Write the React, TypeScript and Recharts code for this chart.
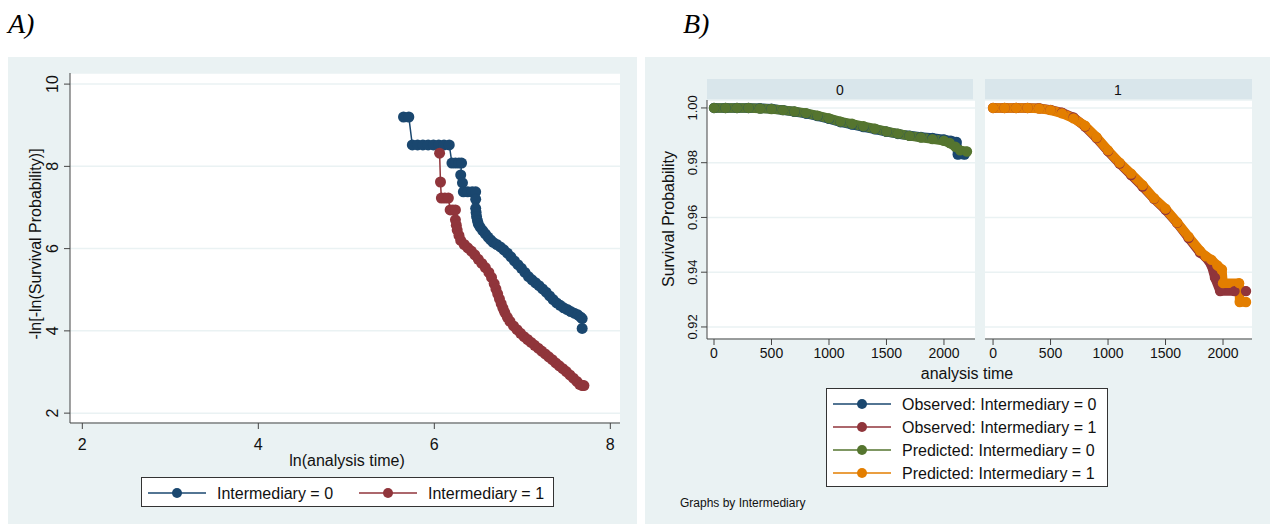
import React from 'react'
import { LineChart, Line, XAxis, YAxis, CartesianGrid } from 'recharts'

// Panel A: -ln[-ln(S)] against ln(analysis time)
const int0LnTime = [5.65, 5.71, 5.75, 5.81, 5.87, 5.93, 5.99, 6.05, 6.11, 6.17, 6.2, 6.24, 6.28, 6.31, 6.3, 6.32, 6.33, 6.38, 6.43, 6.47, 6.47, 6.47, 6.475, 6.48, 6.49, 6.5, 6.52, 6.55, 6.58, 6.61, 6.64, 6.67, 6.71, 6.75, 6.79, 6.83, 6.87, 6.91, 6.95, 6.99, 7.03, 7.07, 7.11, 7.15, 7.19, 7.23, 7.27, 7.31, 7.35, 7.39, 7.43, 7.47, 7.51, 7.55, 7.59, 7.63, 7.66, 7.68, 7.68]
const int0LnLnS = [9.2, 9.2, 8.52, 8.52, 8.52, 8.52, 8.52, 8.52, 8.52, 8.52, 8.08, 8.08, 8.08, 8.08, 7.79, 7.6, 7.38, 7.38, 7.38, 7.38, 7.2, 6.98, 6.88, 6.78, 6.68, 6.6, 6.52, 6.44, 6.36, 6.28, 6.21, 6.15, 6.1, 6.04, 5.97, 5.89, 5.8, 5.7, 5.61, 5.52, 5.42, 5.32, 5.24, 5.17, 5.1, 5.02, 4.94, 4.85, 4.76, 4.68, 4.62, 4.56, 4.52, 4.47, 4.43, 4.39, 4.34, 4.3, 4.06]
const int1LnTime = [6.06, 6.07, 6.08, 6.12, 6.16, 6.18, 6.21, 6.24, 6.24, 6.25, 6.26, 6.28, 6.3, 6.34, 6.38, 6.42, 6.46, 6.5, 6.54, 6.58, 6.62, 6.65, 6.68, 6.7, 6.72, 6.74, 6.76, 6.78, 6.8, 6.83, 6.86, 6.9, 6.94, 6.98, 7.02, 7.06, 7.1, 7.14, 7.18, 7.22, 7.26, 7.3, 7.34, 7.38, 7.42, 7.46, 7.5, 7.54, 7.58, 7.62, 7.65, 7.68, 7.7]
const int1LnLnS = [8.32, 7.62, 7.23, 7.23, 7.23, 6.94, 6.94, 6.94, 6.7, 6.57, 6.45, 6.32, 6.2, 6.1, 6.02, 5.94, 5.85, 5.74, 5.64, 5.54, 5.42, 5.3, 5.15, 5.02, 4.9, 4.78, 4.66, 4.55, 4.45, 4.33, 4.23, 4.12, 4.03, 3.94, 3.86, 3.79, 3.72, 3.65, 3.58, 3.51, 3.44, 3.37, 3.3, 3.22, 3.15, 3.08, 3.01, 2.93, 2.85, 2.77, 2.7, 2.67, 2.67]
const lnTimeTicks = [2, 4, 6, 8]
const lnLnTicks = [2, 4, 6, 8, 10]

// Panel B: observed vs predicted survival, by Intermediary
const obs0Time = [0, 100, 200, 300, 400, 500, 600, 700, 800, 900, 1000, 1100, 1200, 1300, 1400, 1500, 1600, 1700, 1800, 1900, 2000, 2060, 2110, 2120, 2180]
const obs0Surv = [1, 1, 1, 1, 0.9999, 0.9997, 0.9992, 0.9986, 0.9979, 0.997, 0.996, 0.9948, 0.9939, 0.993, 0.9922, 0.9913, 0.9905, 0.9899, 0.9894, 0.989, 0.9885, 0.988, 0.9876, 0.983, 0.983]
const pred0Time = [0, 100, 200, 300, 400, 500, 600, 700, 800, 900, 1000, 1100, 1200, 1300, 1400, 1500, 1600, 1700, 1800, 1900, 2000, 2050, 2100, 2140, 2200]
const pred0Surv = [1, 1, 1, 1, 0.9998, 0.9996, 0.9992, 0.9987, 0.9981, 0.9972, 0.9962, 0.995, 0.9942, 0.9933, 0.9924, 0.9914, 0.9906, 0.9898, 0.9892, 0.9886, 0.988, 0.9872, 0.9858, 0.9845, 0.9841]
const obs1Time = [0, 100, 200, 300, 400, 500, 600, 700, 800, 900, 1000, 1100, 1200, 1300, 1400, 1500, 1600, 1700, 1800, 1850, 1900, 1930, 1975, 2100, 2200]
const obs1Surv = [1, 1, 1, 1, 0.9999, 0.9993, 0.9983, 0.9965, 0.9932, 0.989, 0.9842, 0.9797, 0.9755, 0.9713, 0.9668, 0.9628, 0.958, 0.9525, 0.9472, 0.9455, 0.9425, 0.938, 0.9331, 0.9331, 0.9331]
const pred1Time = [0, 100, 200, 300, 400, 500, 600, 700, 800, 900, 1000, 1100, 1200, 1300, 1400, 1500, 1600, 1700, 1800, 1850, 1900, 1950, 1990, 2000, 2140, 2145, 2200]
const pred1Surv = [1, 1, 1, 1, 0.9998, 0.9992, 0.998, 0.9962, 0.9935, 0.9893, 0.9845, 0.98, 0.976, 0.9718, 0.967, 0.9632, 0.9582, 0.953, 0.9478, 0.9458, 0.9445, 0.9425, 0.941, 0.936, 0.936, 0.9291, 0.9291]
const timeTicks = [0, 500, 1000, 1500, 2000]
const survTicks = [0.92, 0.94, 0.96, 0.98, 1.0]

const NAVY = '#1a476f'
const MAROON = '#90353b'
const GREEN = '#55752f'
const ORANGE = '#e37e00'
const PANEL = '#eaf2f3'
const STRIP = '#d9e6eb'
const AXIS = '#444'
const TEXT = '#111'

const zip = (xs: number[], ys: number[]) => xs.map((x, i) => ({ x, y: ys[i] }))

const xTick = (baseline: number, size: number) => (p: any) => (
  <text x={p.x} y={baseline} textAnchor="middle" fontSize={size} fill={TEXT}>
    {p.payload.value}
  </text>
)

const yTick = (bx: number, size: number, fmt: (v: number) => string) => (p: any) => (
  <text transform={`translate(${bx},${p.y}) rotate(-90)`} textAnchor="middle" fontSize={size} fill={TEXT}>
    {fmt(p.payload.value)}
  </text>
)

function LegendRow({ x, y, color, label }: { x: number; y: number; color: string; label: string }) {
  return (
    <g>
      <line x1={x} x2={x + 58} y1={y} y2={y} stroke={color} strokeWidth={1.5} />
      <circle cx={x + 29} cy={y} r={5} fill={color} />
      <text x={x + 69} y={y + 6} fontSize={16} fill={TEXT}>{label}</text>
    </g>
  )
}

// one facet of panel B; chart box starts at y=79 so the top tick label is not clipped
function Facet({ left, xDomain, showY, obs, pred, obsColor, predColor }: any) {
  return (
    <div style={{ position: 'absolute', left, top: 79 }}>
      <LineChart width={showY ? 330 : 267} height={291} margin={{ top: 21, right: 0, bottom: 0, left: 0 }}>
        <CartesianGrid vertical={false} stroke={PANEL} strokeWidth={1.5} fill="#fff" />
        <XAxis type="number" dataKey="x" domain={xDomain} ticks={timeTicks} allowDataOverflow
          height={31} stroke={AXIS} tickSize={6} tick={xTick(279, 14)} />
        <YAxis type="number" dataKey="y" domain={[0.9156, 1.0029]} ticks={survTicks} allowDataOverflow
          width={showY ? 62 : 0} hide={!showY} stroke={AXIS} tickSize={6}
          tick={yTick(52, 13, (v) => v.toFixed(2))} />
        <Line data={obs} dataKey="y" stroke={obsColor} strokeWidth={9.5} strokeLinejoin="round" strokeLinecap="round"
          dot={{ r: 5.2, fill: obsColor, stroke: 'none' }} activeDot={false} isAnimationActive={false} />
        <Line data={pred} dataKey="y" stroke={predColor} strokeWidth={9.5} strokeLinejoin="round" strokeLinecap="round"
          dot={{ r: 5.2, fill: predColor, stroke: 'none' }} activeDot={false} isAnimationActive={false} />
      </LineChart>
    </div>
  )
}

export default function App() {
  const int0 = zip(int0LnTime, int0LnLnS)
  const int1 = zip(int1LnTime, int1LnLnS)
  return (
    <div style={{ position: 'absolute', left: 0, top: 0, width: 1270, height: 526, background: '#fff', overflow: 'hidden', fontFamily: '"Liberation Sans", Arial, sans-serif' }}>
      <svg width={1270} height={526} style={{ position: 'absolute', left: 0, top: 0 }}>
        <text x={8} y={33} fontFamily='"Liberation Serif", serif' fontStyle="italic" fontSize={28} fill="#000">A)</text>
        <text x={683} y={33} fontFamily='"Liberation Serif", serif' fontStyle="italic" fontSize={28} fill="#000">B)</text>

        <rect x={8} y={57} width={629} height={467} fill={PANEL} />
        <text transform="translate(41,244) rotate(-90)" textAnchor="middle" fontSize={16} fill={TEXT}>-ln[-ln(Survival Probability)]</text>
        <text x={347} y={466} textAnchor="middle" fontSize={16} fill={TEXT}>ln(analysis time)</text>
        <rect x={141.5} y={477.5} width={412} height={29} fill="#fff" stroke="#333" />
        <LegendRow x={148} y={493} color={NAVY} label="Intermediary = 0" />
        <LegendRow x={359} y={493} color={MAROON} label="Intermediary = 1" />

        <rect x={645} y={57} width={625} height={467} fill={PANEL} />
        <rect x={707} y={79} width={266} height={21} fill={STRIP} />
        <rect x={985} y={79} width={267} height={21} fill={STRIP} />
        <text x={840} y={95} textAnchor="middle" fontSize={14} fill={TEXT}>0</text>
        <text x={1118} y={95} textAnchor="middle" fontSize={14} fill={TEXT}>1</text>
        <text transform="translate(674,219) rotate(-90)" textAnchor="middle" fontSize={16} fill={TEXT}>Survival Probability</text>
        <text x={967} y={379} textAnchor="middle" fontSize={16} fill={TEXT}>analysis time</text>
        <rect x={826.5} y={388.5} width={281} height={98} fill="#fff" stroke="#333" />
        <LegendRow x={833} y={404} color={NAVY} label="Observed: Intermediary = 0" />
        <LegendRow x={833} y={427} color={MAROON} label="Observed: Intermediary = 1" />
        <LegendRow x={833} y={450} color={GREEN} label="Predicted: Intermediary = 0" />
        <LegendRow x={833} y={473} color={ORANGE} label="Predicted: Intermediary = 1" />
        <text x={680} y={507} fontSize={12} fill={TEXT}>Graphs by Intermediary</text>
      </svg>

      <div style={{ position: 'absolute', left: 8, top: 73 }}>
        <LineChart width={612} height={380} margin={{ top: 0, right: 0, bottom: 0, left: 0 }}>
          <CartesianGrid vertical={false} stroke={PANEL} strokeWidth={1.5} fill="#fff" />
          <XAxis type="number" dataKey="x" domain={[1.86, 8.11]} ticks={lnTimeTicks} allowDataOverflow
            height={30} stroke={AXIS} tickSize={6} tick={xTick(377, 16)} />
          <YAxis type="number" dataKey="y" domain={[1.76, 10.27]} ticks={lnLnTicks} allowDataOverflow
            width={62} stroke={AXIS} tickSize={6} tick={yTick(49.5, 16, (v) => String(v))} />
          <Line data={int0} dataKey="y" stroke={NAVY} strokeWidth={1.5}
            dot={{ r: 5.5, fill: NAVY, stroke: 'none' }} activeDot={false} isAnimationActive={false} />
          <Line data={int1} dataKey="y" stroke={MAROON} strokeWidth={1.5}
            dot={{ r: 5.5, fill: MAROON, stroke: 'none' }} activeDot={false} isAnimationActive={false} />
        </LineChart>
      </div>

      <Facet left={645} xDomain={[-61, 2270]} showY obs={zip(obs0Time, obs0Surv)} pred={zip(pred0Time, pred0Surv)} obsColor={NAVY} predColor={GREEN} />
      <Facet left={985} xDomain={[-70, 2252]} showY={false} obs={zip(obs1Time, obs1Surv)} pred={zip(pred1Time, pred1Surv)} obsColor={MAROON} predColor={ORANGE} />
    </div>
  )
}
